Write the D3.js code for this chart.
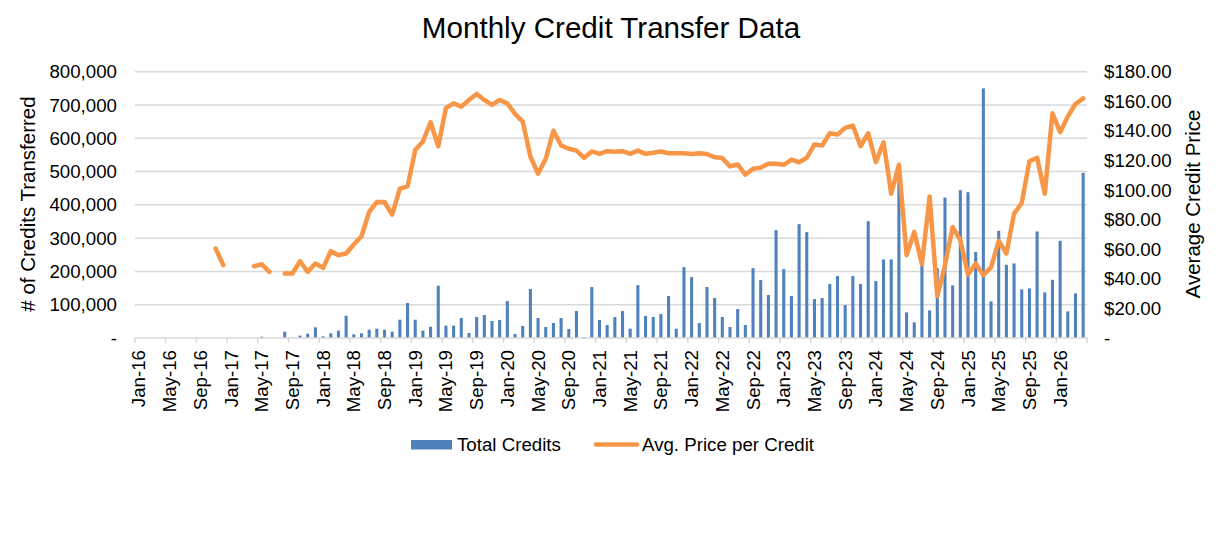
<!DOCTYPE html>
<html>
<head>
<meta charset="utf-8">
<script src="https://cdn.jsdelivr.net/npm/d3@7"></script>
<style>
  body { margin: 0; background: #fff; }
  text { font-family: "Liberation Sans", Arial, sans-serif; fill: #000; }
</style>
</head>
<body>
<svg id="chart" width="1220" height="550"></svg>
<script>

// months Jan-16 .. Apr-26
var categories = d3.utcMonth.range(new Date(Date.UTC(2016, 0, 1)), new Date(Date.UTC(2026, 4, 1)))
  .map(d3.utcFormat("%b-%y"));

var tickLabels = ["Jan-16", "May-16", "Sep-16", "Jan-17", "May-17", "Sep-17", "Jan-18", "May-18",
  "Sep-18", "Jan-19", "May-19", "Sep-19", "Jan-20", "May-20", "Sep-20", "Jan-21", "May-21", "Sep-21",
  "Jan-22", "May-22", "Sep-22", "Jan-23", "May-23", "Sep-23", "Jan-24", "May-24", "Sep-24", "Jan-25",
  "May-25", "Sep-25", "Jan-26"];

var totalCredits = [
  0, 0, 0, 0, 0, 0, 0, 0, 0, 0, 0, 0,
  0, 0, 0, 0, 4000, 0, 0, 19000, 0, 7000, 13000, 32000,
  5000, 14000, 22000, 67000, 11000, 14000, 25000, 28000, 25000, 19000, 55000, 105000,
  55000, 22000, 34000, 157000, 37000, 37000, 60000, 15000, 63000, 69000, 51000, 54000,
  111000, 12000, 36000, 147000, 60000, 33000, 45000, 60000, 27000, 81000, 3000, 153000,
  54000, 39000, 63000, 81000, 28000, 159000, 66000, 63000, 72000, 126000, 28000, 213000,
  183000, 45000, 153000, 120000, 63000, 33000, 87000, 39000, 210000, 174000, 129000, 324000,
  207000, 126000, 342000, 318000, 117000, 120000, 162000, 186000, 99000, 186000, 162000, 351000,
  171000, 236000, 236000, 500000, 77000, 47000, 220000, 83000, 210000, 422000, 158000, 444000,
  438000, 258000, 750000, 110000, 322000, 220000, 224000, 146000, 149000, 320000, 137000, 175000,
  292000, 80000, 134000, 496000
];

var avgPrice = [
  null, null, null, null, null, null, null, null, null, null, 60.5, 49.2,
  null, null, null, 48.5, 49.9, 44.7, null, 43.6, 43.6, 51.9, 44.7, 50.3,
  47.4, 58.7, 56.0, 57.1, 63.2, 68.8, 85.2, 91.9, 91.9, 83.4, 100.9, 102.5,
  127.0, 132.8, 145.8, 129.6, 155.5, 158.6, 156.4, 160.9, 165.0, 160.9, 157.5, 160.9,
  158.6, 151.5, 146.3, 122.7, 111.0, 121.1, 140.2, 130.1, 127.9, 126.7, 121.8, 126.1,
  124.5, 126.3, 125.9, 126.3, 124.5, 126.7, 124.5, 125.2, 126.1, 124.9, 124.9, 124.9,
  124.3, 124.9, 124.3, 122.2, 121.6, 116.0, 117.3, 110.4, 114.4, 115.1, 117.8, 117.8,
  117.1, 120.5, 118.8, 121.8, 130.8, 130.1, 138.4, 137.5, 142.0, 143.6, 129.6, 138.4,
  118.9, 132.3, 97.5, 117.1, 56.0, 71.7, 49.9, 95.7, 28.3, 49.2, 75.0, 66.1,
  42.9, 50.3, 42.5, 47.7, 65.6, 57.1, 84.1, 91.2, 119.5, 121.8, 97.5, 151.9,
  139.1, 149.7, 158.2, 162.0
];

var leftTicks = [0, 100000, 200000, 300000, 400000, 500000, 600000, 700000, 800000];
var rightTicks = [0, 20, 40, 60, 80, 100, 120, 140, 160, 180];

var svg = d3.select("#chart");
var plotLeft = 135, plotRight = 1087, plotTop = 71.7, plotBottom = 338;

var x = d3.scaleBand()
  .domain(categories)
  .range([plotLeft, plotRight])
  .paddingInner(0.6)
  .paddingOuter(0.3);

var step = x.step();

var yLeft = d3.scaleLinear().domain([0, 800000]).range([plotBottom, plotTop]);
var yRight = d3.scaleLinear().domain([0, 180]).range([plotBottom, plotTop]);

var fmtLeft = function (d) { return d === 0 ? "-" : d3.format(",")(d); };
var fmtRight = function (d) { return d === 0 ? "-" : "$" + d3.format(".2f")(d); };

// gridlines
svg.append("g")
  .selectAll("line")
  .data(leftTicks.slice(1))
  .enter().append("line")
  .attr("x1", plotLeft)
  .attr("x2", plotRight)
  .attr("y1", function (d) { return yLeft(d); })
  .attr("y2", function (d) { return yLeft(d); })
  .style("stroke", "#d9d9d9")
  .style("stroke-width", "1.5px");

// bars
svg.append("g")
  .selectAll("rect")
  .data(totalCredits)
  .enter().append("rect")
  .attr("x", function (d, i) { return x(categories[i]); })
  .attr("width", x.bandwidth())
  .attr("y", function (d) { return yLeft(d); })
  .attr("height", function (d) { return plotBottom - yLeft(d); })
  .style("fill", "#4f81bd");

// category axis line and tick marks
svg.append("line")
  .attr("x1", plotLeft)
  .attr("x2", plotRight)
  .attr("y1", plotBottom)
  .attr("y2", plotBottom)
  .style("stroke", "#d9d9d9")
  .style("stroke-width", "1.5px");

svg.append("g")
  .selectAll("line")
  .data(d3.range(0, categories.length + 1, 4))
  .enter().append("line")
  .attr("x1", function (i) { return plotLeft + i * step; })
  .attr("x2", function (i) { return plotLeft + i * step; })
  .attr("y1", plotBottom)
  .attr("y2", plotBottom + 5)
  .style("stroke", "#d9d9d9")
  .style("stroke-width", "1.5px");

// price line
var line = d3.line()
  .defined(function (d) { return d != null; })
  .x(function (d, i) { return x(categories[i]) + x.bandwidth() / 2; })
  .y(function (d) { return yRight(d); });

svg.append("path")
  .datum(avgPrice)
  .attr("d", line)
  .style("fill", "none")
  .style("stroke", "#f79646")
  .style("stroke-width", "4.5px")
  .style("stroke-linejoin", "round")
  .style("stroke-linecap", "round");

// x labels
svg.append("g")
  .selectAll("text")
  .data(tickLabels)
  .enter().append("text")
  .attr("transform", function (d) {
    return "translate(" + (x(d) + x.bandwidth() / 2) + "," + 350 + ") rotate(-90)";
  })
  .attr("dy", "0.35em")
  .style("text-anchor", "end")
  .style("font-size", "18.7px")
  .text(function (d) { return d; });

// left axis labels
svg.append("g")
  .selectAll("text")
  .data(leftTicks)
  .enter().append("text")
  .attr("x", 117)
  .attr("y", function (d) { return yLeft(d); })
  .attr("dy", "0.35em")
  .style("text-anchor", "end")
  .style("font-size", "18.7px")
  .text(fmtLeft);

// right axis labels
svg.append("g")
  .selectAll("text")
  .data(rightTicks)
  .enter().append("text")
  .attr("x", 1104)
  .attr("y", function (d) { return yRight(d); })
  .attr("dy", "0.35em")
  .style("text-anchor", "start")
  .style("font-size", "18.7px")
  .text(fmtRight);

// titles
svg.append("text")
  .attr("x", 611)
  .attr("y", 38)
  .style("text-anchor", "middle")
  .style("font-size", "29.6px")
  .text("Monthly Credit Transfer Data");

svg.append("text")
  .attr("transform", "translate(35,204) rotate(-90)")
  .style("text-anchor", "middle")
  .style("font-size", "20.5px")
  .text("# of Credits Transferred");

svg.append("text")
  .attr("transform", "translate(1200,204) rotate(-90)")
  .style("text-anchor", "middle")
  .style("font-size", "20.5px")
  .text("Average Credit Price");

// legend
var legend = svg.append("g");

legend.append("rect")
  .attr("x", 411)
  .attr("y", 440)
  .attr("width", 41)
  .attr("height", 9.5)
  .style("fill", "#4f81bd");

legend.append("text")
  .attr("x", 457)
  .attr("y", 450.5)
  .style("font-size", "18.7px")
  .text("Total Credits");

legend.append("line")
  .attr("x1", 596)
  .attr("x2", 637)
  .attr("y1", 444.5)
  .attr("y2", 444.5)
  .style("stroke", "#f79646")
  .style("stroke-width", "4.5px")
  .style("stroke-linecap", "round");

legend.append("text")
  .attr("x", 642)
  .attr("y", 450.5)
  .style("font-size", "18.7px")
  .text("Avg. Price per Credit");

</script>
</body>
</html>
